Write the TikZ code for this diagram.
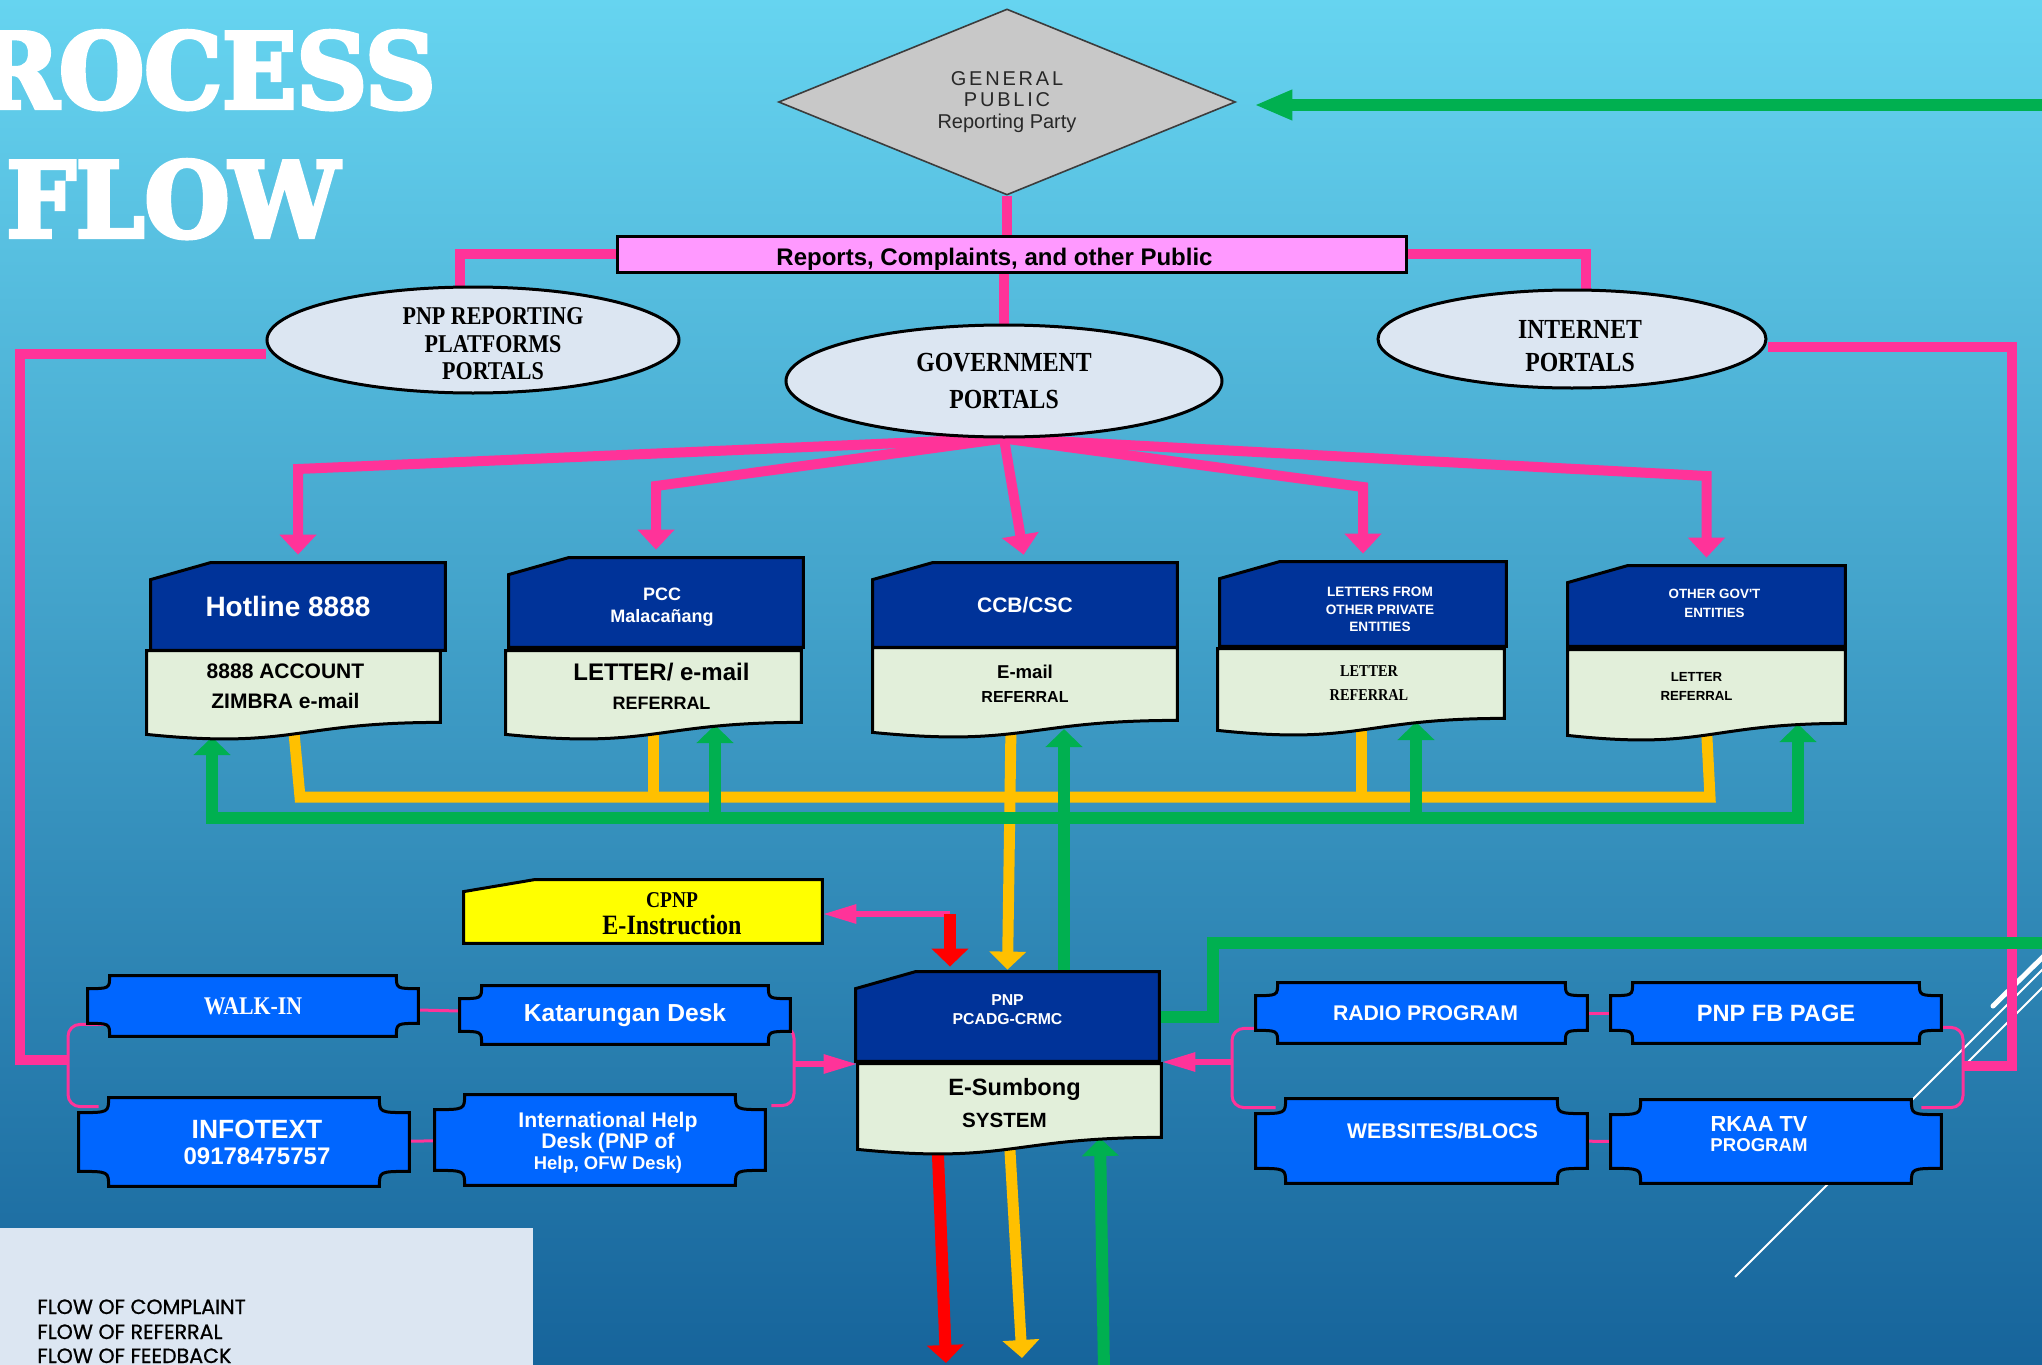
\documentclass[tikz,border=0pt]{standalone}
\usepackage{fontspec}
\setmainfont{Liberation Sans}
\newfontfamily\arialf{Liberation Sans}
\newfontfamily\condserif{Liberation Serif}[FakeStretch=0.86]
\newfontfamily\titlef{DejaVu Serif}[FakeStretch=0.94, FakeBold=4]
\newfontfamily\legendf{Poppins}[FakeBold=0.8]
\usetikzlibrary{shapes.geometric, arrows.meta, calc}

\pgfdeclarelayer{bg}
\pgfdeclarelayer{lines}
\pgfdeclarelayer{shapes}
\pgfsetlayers{bg,lines,shapes,main}

\definecolor{bgtop}{RGB}{102,212,240}
\definecolor{bgbot}{RGB}{22,100,155}
\definecolor{navy}{RGB}{0,51,153}
\definecolor{paleg}{RGB}{226,239,218}
\definecolor{plqblue}{RGB}{0,102,255}
\definecolor{rpink}{RGB}{255,153,255}
\definecolor{elfill}{RGB}{220,230,242}
\definecolor{cpink}{RGB}{255,51,153}
\definecolor{ryellow}{RGB}{255,192,0}
\definecolor{fgreen}{RGB}{0,176,80}
\definecolor{redc}{RGB}{255,0,0}
\definecolor{cyell}{RGB}{255,255,0}
\definecolor{gpfill}{RGB}{200,200,200}
\definecolor{gpline}{RGB}{60,60,60}
\definecolor{gptext}{RGB}{40,40,40}
\definecolor{legfill}{RGB}{220,230,242}

% outlines drawn round the named nodes
\newcommand{\chamf}[4]{\draw[boxline, fill=#2] (#1.south west) -- ($(#1.north west)+(0,#4)$) -- ($(#1.north west)+(#3,0)$) -- (#1.north east) -- (#1.south east) -- cycle;}
\newcommand{\wave}[1]{\draw[boxline, fill=paleg] (#1.north west) -- (#1.north east) -- (#1.south east) .. controls (#1.south) and ($(#1.south)+(0,27)$) .. ($(#1.south west)+(0,12)$) -- cycle;}
\newcommand{\plaque}[3]{\draw[boxline, fill=plqblue] ($(#1.north west)+(#2,0)$) -- ($(#1.north east)+(-#2,0)$) .. controls ($(#1.north east)+(-#2,#3)$) .. ($(#1.north east)+(0,#3)$) -- ($(#1.south east)+(0,-#3)$) .. controls ($(#1.south east)+(-#2,-#3)$) .. ($(#1.south east)+(-#2,0)$) -- ($(#1.south west)+(#2,0)$) .. controls ($(#1.south west)+(#2,-#3)$) .. ($(#1.south west)+(0,-#3)$) -- ($(#1.north west)+(0,#3)$) .. controls ($(#1.north west)+(#2,#3)$) .. ($(#1.north west)+(#2,0)$) -- cycle;}
% nudge a text line right (\rs) or left (\ls), or a block down (\vsh)
\newcommand{\rs}[1]{\hspace*{#1pt}}
\newcommand{\ls}[1]{\hspace*{#1pt}}
\newcommand{\vsh}[2]{\raisebox{-#1pt}[\height][\depth]{\begin{tabular}{@{}c@{}}#2\end{tabular}}}

\begin{document}
\begin{tikzpicture}[x=0.5pt, y=-0.5pt, wh/.style 2 args={minimum width=#1*0.5pt, minimum height=#2*0.5pt}]
	\tikzstyle{head} = [rectangle, inner sep=0pt, text=white, align=center]
	\tikzstyle{body} = [rectangle, inner sep=0pt, align=center]
	\tikzstyle{plq} = [rectangle, inner sep=0pt, text=white, align=center]
	\tikzstyle{portal} = [ellipse, draw, line width=1.5pt, fill=elfill, inner sep=0pt, align=center]
	\tikzstyle{boxline} = [draw=black, line width=1.5pt]
	\tikzstyle{cplt} = [draw=cpink, line width=5pt]
	\tikzstyle{cpthin} = [draw=cpink, line width=3pt]
	\tikzstyle{thinp} = [draw=cpink, line width=1.5pt, rounded corners=6pt]
	\tikzstyle{refl} = [draw=ryellow, line width=5.5pt]
	\tikzstyle{fdbk} = [draw=fgreen, line width=6pt]
	\tikzstyle{outred} = [draw=redc, line width=6pt]
	\tikzstyle{flowtip} = [-{Triangle[width=18pt, length=9pt]}]
	\tikzstyle{sidetip} = [-{Triangle[width=9pt, length=17pt]}]
	\tikzstyle{fan} = [cplt, -{Triangle[width=18pt, length=10pt]}, shorten >=4pt]
	\tikzstyle{ttl} = [text=white, inner sep=0pt, font={\titlef\bfseries\fontsize{52}{52}\selectfont}]
	\tikzstyle{legtext} = [inner sep=0pt, anchor=base west, font={\legendf\fontsize{10.3}{12}\selectfont}]

	\useasboundingbox (0,0) rectangle (2042,1365);
	\begin{pgfonlayer}{bg}
		\shade[top color=bgtop, bottom color=bgbot] (0,0) rectangle (2042,1365);
	\end{pgfonlayer}

	% title and legend
	\node[ttl, anchor=base east] (ttla) at (436,108) {ROCESS};
	\node[ttl, anchor=base west] (ttlb) at (6,237) {FLOW};
	\fill[legfill] (0,1228) rectangle (533,1365);
	\node[legtext] (lg1) at (37,1314) {FLOW OF COMPLAINT};
	\node[legtext] (lg2) at (37,1339) {FLOW OF REFERRAL};
	\node[legtext] (lg3) at (37,1363) {FLOW OF FEEDBACK};

	% public and portals
	\node[diamond, shape aspect=2.46, draw=gpline, line width=0.8pt, fill=gpfill, inner sep=0pt, wh={457}{186}, align=center, text=gptext, font={\arialf\fontsize{10}{10.75}\selectfont}] (gp) at (1007,102) {{\addfontfeature{LetterSpace=14}GENERAL}\\{\addfontfeature{LetterSpace=14}PUBLIC}\\Reporting Party};
	\node[rectangle, draw, line width=1.5pt, fill=rpink, inner sep=0pt, wh={789}{36}, font={\arialf\bfseries\fontsize{12}{14}\selectfont}] (rep) at (1011.5,254) {\vsh{2.75}{Reports, Complaints, and other Public}\ls{17}};
	\node[portal, inner sep=-7pt, wh={412}{106}, font={\condserif\bfseries\fontsize{12.8}{13.75}\selectfont}] (pnprep) at (473,340) {\vsh{3.25}{\rs{20}PNP REPORTING\\\rs{20}PLATFORMS\\\rs{20}PORTALS}};
	\node[portal, wh={436}{112}, font={\condserif\bfseries\fontsize{13.8}{18.5}\selectfont}] (gov) at (1004,381) {GOVERNMENT\\PORTALS};
	\node[portal, wh={388}{98}, font={\condserif\bfseries\fontsize{13.8}{16.5}\selectfont}] (inet) at (1572,339) {\vsh{4.5}{\rs{8}INTERNET\\\rs{8}PORTALS}};

	% receiving offices
	\node[head, wh={294}{87}, font={\arialf\bfseries\fontsize{14}{16}\selectfont}] (hot) at (298,606.5) {Hotline 8888\ls{10}};
	\node[head, wh={294}{89}, font={\arialf\bfseries\fontsize{9}{11}\selectfont}] (pcc) at (656,602.5) {\vsh{2.5}{\rs{6}PCC\\\rs{6}Malacañang}};
	\node[head, wh={304}{84}, font={\arialf\bfseries\fontsize{10.5}{12}\selectfont}] (ccb) at (1025,605) {CCB/CSC};
	\node[head, wh={286}{84}, font={\arialf\bfseries\fontsize{6.8}{8.75}\selectfont}] (let) at (1363,604) {\vsh{3.25}{\rs{17}LETTERS FROM\\\rs{17}OTHER PRIVATE\\\rs{17}ENTITIES}};
	\node[head, wh={277}{80}, font={\arialf\bfseries\fontsize{6.7}{9.5}\selectfont}] (oth) at (1706.5,606) {\vsh{-1}{\rs{8}OTHER GOV'T\\\rs{8}ENTITIES}};

	\node[body, wh={293}{71}, font={\arialf\bfseries\fontsize{10.5}{15}\selectfont}] (hotb) at (293.5,686.5) {8888 ACCOUNT\ls{8}\\ZIMBRA e-mail\ls{8}};
	\node[body, wh={295}{71}, font={\arialf\bfseries\fontsize{9}{14.5}\selectfont}] (pccb) at (653.5,686.5) {\rs{8}{\fontsize{12}{14.5}\selectfont LETTER/ e-mail}\\\rs{8}REFERRAL};
	\node[body, wh={304}{72}, font={\arialf\bfseries\fontsize{8}{12}\selectfont}] (ccbb) at (1025,684) {{\fontsize{9.3}{12}\selectfont E-mail}\\REFERRAL};
	\node[body, wh={286}{69}, font={\condserif\bfseries\fontsize{8.3}{12}\selectfont}] (letb) at (1361,683.5) {\rs{8}LETTER\\\rs{8}REFERRAL};
	\node[body, wh={277}{73}, font={\arialf\bfseries\fontsize{6.6}{9.5}\selectfont}] (othb) at (1706.5,686.5) {LETTER\ls{10}\\REFERRAL\ls{10}};

	% central system
	\node[body, wh={358}{63}, font={\condserif\bfseries\fontsize{11.3}{12}\selectfont}] (cpnp) at (643,911.5) {\vsh{2.5}{\rs{29}CPNP\\\rs{29}{\fontsize{14}{12}\selectfont E-Instruction}}};
	\node[head, wh={303}{89}, font={\arialf\bfseries\fontsize{7.9}{9.5}\selectfont}] (pnp) at (1007.5,1016.5) {\vsh{-2.5}{PNP\\PCADG-CRMC}};
	\node[body, wh={303}{73}, font={\arialf\bfseries\fontsize{10.3}{16}\selectfont}] (esb) at (1009.5,1100.5) {\vsh{2.5}{\rs{5}{\fontsize{11.8}{16}\selectfont E-Sumbong}\\SYSTEM\ls{5}}};

	% walk-in and media channels
	\node[plq, wh={330}{60}, font={\condserif\bfseries\fontsize{12.7}{14}\selectfont}] (walk) at (253,1006) {WALK-IN};
	\node[plq, wh={330}{58}, font={\arialf\bfseries\fontsize{12.3}{14}\selectfont}] (kat) at (625,1015) {Katarungan Desk};
	\node[plq, wh={330}{88}, font={\arialf\bfseries\fontsize{12}{13}\selectfont}] (info) at (244,1142) {\vsh{2}{\rs{13}{\fontsize{13.2}{13}\selectfont INFOTEXT}\\\rs{13}09178475757}};
	\node[plq, wh={330}{90}, font={\arialf\bfseries\fontsize{10.6}{10.5}\selectfont}] (intl) at (600,1140) {\vsh{2}{\rs{8}International Help\\\rs{8}Desk (PNP of\\\rs{8}{\fontsize{9.2}{10.5}\selectfont Help, OFW Desk)}}};
	\node[plq, wh={331}{60}, font={\arialf\bfseries\fontsize{10.6}{12}\selectfont}] (radio) at (1421.5,1013) {\rs{4}RADIO PROGRAM};
	\node[plq, wh={330}{60}, font={\arialf\bfseries\fontsize{11.8}{13}\selectfont}] (fb) at (1776,1013) {PNP FB PAGE};
	\node[plq, wh={331}{84}, font={\arialf\bfseries\fontsize{10.6}{12}\selectfont}] (web) at (1421.5,1141) {\rs{21}\raisebox{10pt}{WEBSITES/BLOCS}};
	\node[plq, wh={330}{83}, font={\arialf\bfseries\fontsize{9.3}{10}\selectfont}] (rkaa) at (1776,1141.5) {\vsh{-2.5}{{\fontsize{10.9}{10}\selectfont RKAA TV}\ls{17}\\PROGRAM\ls{17}}};

	\begin{pgfonlayer}{shapes}
		\foreach \n in {hot,pcc,ccb,let,oth,pnp} {\chamf{\n}{navy}{60}{17}}
		\chamf{cpnp}{cyell}{71}{12}
		\foreach \n in {hotb,pccb,ccbb,letb,othb,esb} {\wave{\n}}
		\foreach \n in {walk,kat,radio,fb} {\plaque{\n}{22}{13}}
		\foreach \n in {info,intl,web,rkaa} {\plaque{\n}{30}{15}}
	\end{pgfonlayer}

	\begin{pgfonlayer}{lines}
		% white strokes
		\draw[white, line width=1pt] (1735,1277) -- (2060,952);
		\draw[white, line width=1pt] (1968,1062) -- (2060,970);
		\draw[white, line width=2.5pt, line cap=round] (1993,1006) -- (2050,950);

		% complaints
		\draw[cplt] (gp.south) -- (gp.south |- rep.north);
		\draw[cplt] (rep.south -| gov.north) -- (gov.north);
		\draw[cplt] (rep.west) -| ($(pnprep.north)+(-13,0)$);
		\draw[cplt] (rep.east) -| ($(inet.north)+(14,0)$);
		\foreach \n/\by in {hot/469, pcc/486, let/487, oth/476}
			\draw[fan] (gov.south) -- (\n.north |- 0,\by) -- (\n.north);
		\draw[fan] (gov.south) -- (ccb.north);

		\coordinate (lft) at (20,1060);
		\coordinate (lbrL) at (68,1060);
		\coordinate (rbrL) at (794,1064);
		\coordinate (lbrR) at (1232,1062);
		\coordinate (rbrR) at (1963,1066);
		\coordinate (rgt) at (2012,1066);
		\draw[cplt] ([yshift=-7pt]pnprep.west) -| (lft) -- (lbrL);
		\draw[cplt] ([yshift=-4pt]inet.east) -| (rgt) -- (rbrR);
		\draw[thinp] ($(walk.south west)+(20,-12)$) -| (lbrL) |- ($(info.north west)+(20,9)$);
		\draw[thinp] ($(kat.south east)+(-20,-18)$) -| (rbrL) |- ($(intl.north east)+(6,11)$);
		\draw[thinp] ($(radio.south west)+(20,-15)$) -| (lbrR) |- ($(web.north west)+(20,9)$);
		\draw[thinp] ($(fb.south east)+(-20,-16)$) -| (rbrR) |- ($(rkaa.north east)+(-20,8)$);
		\foreach \a/\b in {walk/kat, info/intl, radio/fb, web/rkaa}
			\draw[cpink, line width=1.5pt] (\a) -- (\b);
		\draw[cpthin, sidetip] (rbrL) -- (rbrL -| esb.north west);
		\draw[cpthin, sidetip] (lbrR) -- (lbrR -| esb.north east);
		\coordinate (cb) at (950,914);
		\draw[cpthin, sidetip] (cb) -- (cb -| cpnp.east);

		% referrals
		\coordinate (ybl) at (300,797);
		\coordinate (ybr) at (1710,797);
		\draw[refl] ($(hotb.south)+(0,5)$) -- (ybl) -- (ybr) -- ($(othb.south)+(0,5)$);
		\foreach \n in {pccb, letb}
			\draw[refl] ($(\n.south)+(0,5)$) -- (\n.south |- ybl);
		\draw[refl, flowtip, shorten >=1pt] ($(ccbb.south)+(-14,5)$) -- (pnp.north);
		\coordinate (outy) at (1022,1358);
		\draw[refl, flowtip] ($(esb.south)+(0,5)$) -- (outy);

		% complaint out
		\draw[outred, flowtip, shorten >=2.5pt] (cb) -- (cb |- pnp.north);
		\coordinate (outr) at (946,1363);
		\draw[outred, flowtip] ($(esb.south)+(-72,5)$) -- (outr);

		% feedback
		\coordinate (gbl) at (212,818);
		\coordinate (gbr) at (1798,818);
		\coordinate (hotfb) at (212,737);
		\coordinate (pccfb) at (715,725);
		\coordinate (ccbfb) at (1064,729);
		\coordinate (letfb) at (1416,722);
		\coordinate (othfb) at (1798,724);
		\coordinate (esbfb) at (1100,1138);
		\coordinate (inG) at (1104,1370);
		\draw[fdbk, {Triangle[width=18pt, length=9pt]}-{Triangle[width=18pt, length=9pt]}] (hotfb) -- (gbl) -- (gbr) -- (othfb);
		\foreach \c in {pccfb, letfb}
			\draw[fdbk, flowtip] (gbl -| \c) -- (\c);
		\draw[fdbk, flowtip] (pnp.north -| ccbfb) -- (ccbfb);
		\draw[fdbk, flowtip] (inG) -- (esbfb);
		\draw[fdbk, -{Triangle[width=14pt, length=19pt]}, shorten >=9pt] (pnp.east) -- (1213,1016.5) -- (1213,943) -- (2060,943) -- (2060,105) -- ([yshift=-1.5pt]gp.east);
	\end{pgfonlayer}
\end{tikzpicture}
\end{document}
